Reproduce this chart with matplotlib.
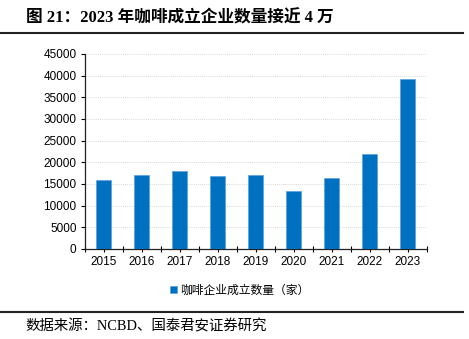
import matplotlib
matplotlib.use('Agg')
import matplotlib.pyplot as plt
from matplotlib.lines import Line2D
import numpy as np

years = ['2015', '2016', '2017', '2018', '2019', '2020', '2021', '2022', '2023']
counts = [15900, 17000, 18100, 16900, 17100, 13300, 16400, 21950, 39300]
series_name = '咖啡企业成立数量（家）'
title = '图 21：2023 年咖啡成立企业数量接近 4 万'
source = '数据来源：NCBD、国泰君安证券研究'

plt.rcParams['font.family'] = ['Liberation Sans', 'Noto Sans CJK SC']

fig = plt.figure(figsize=(4.69, 3.39), dpi=100)
ax = fig.add_axes([0.181, 0.2655, 0.729, 0.5755])

x = np.arange(len(years))
ax.bar(x, counts, width=0.4, color='#0070C0', edgecolor='#5aa0dc', linewidth=0.5,
       label=series_name, zorder=3)

ax.set_xlim(-0.5, len(years) - 0.5)
ax.set_ylim(0, 45000)
ax.set_yticks(np.arange(0, 45001, 5000))
ax.yaxis.grid(True, linestyle=(0, (1, 1.5)), color='#c8c8c8', linewidth=0.6, zorder=0)

# major ticks at category boundaries, minor at centres
ax.set_xticks(np.arange(-0.5, len(years), 1.0))
ax.set_xticklabels([])
ax.set_xticks(x, minor=True)
ax.set_xticklabels(years, minor=True)
ax.tick_params(axis='x', which='both', direction='inout', length=4, width=0.8, labelsize=8.5, pad=3)
ax.tick_params(axis='y', direction='out', length=3, width=0.8, labelsize=8.5, pad=3)

for s in ['top', 'right']:
    ax.spines[s].set_visible(False)
for s in ['left', 'bottom']:
    ax.spines[s].set_linewidth(0.9)
    ax.spines[s].set_color('#222222')

ax.legend(loc='center', bbox_to_anchor=(240 / 469, 1 - 290 / 339),
          bbox_transform=fig.transFigure, frameon=False,
          handlelength=0.55, handleheight=0.55, handletextpad=0.3,
          prop={'family': ['Noto Sans CJK SC'], 'size': 8.5})

fig.text(26 / 469, 1 - 18 / 339, title, fontsize=12, fontweight='bold',
         family=['Liberation Serif', 'Noto Sans CJK SC'], va='center', ha='left')
fig.add_artist(Line2D([0, 463 / 469], [1 - 33 / 339] * 2, color='#222222', linewidth=1.5))
fig.add_artist(Line2D([0, 463 / 469], [1 - 312 / 339] * 2, color='#222222', linewidth=1.5))
fig.text(25 / 469, 1 - 326 / 339, source, fontsize=10.4,
         family=['Liberation Serif', 'Noto Sans CJK SC'], va='center', ha='left')

fig.savefig('out.png', dpi=100)
